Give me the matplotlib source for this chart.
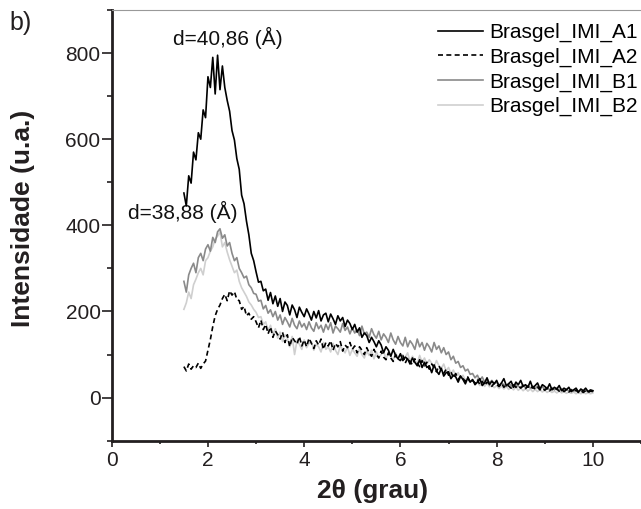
import numpy as np
import matplotlib.pyplot as plt
from matplotlib.ticker import MultipleLocator

plt.rcParams["font.family"] = ["Liberation Sans", "DejaVu Sans"]

# 2theta grid: 1.50 .. 10.00 in 0.05 steps
X_START = 1.5
X_STEP = 0.05

labels = ["Brasgel_IMI_A1", "Brasgel_IMI_A2", "Brasgel_IMI_B1", "Brasgel_IMI_B2"]

a1 = [
    475, 445, 515, 498, 570, 552, 615, 600, 668, 650,
    745, 720, 790, 705, 795, 715, 770, 720, 690, 665,
    620, 598, 555, 530, 470, 450, 410, 378, 335, 318,
    292, 268, 270, 248, 252, 226, 244, 218, 236, 212,
    230, 200, 222, 214, 192, 215, 204, 186, 210, 198,
    188, 206, 194, 180, 200, 185, 202, 178, 192, 196,
    176, 194, 183, 170, 190, 178, 186, 165, 180, 172,
    158, 170, 152, 162, 140, 150, 144, 128, 140, 130,
    118, 132, 122, 104, 118, 110, 96, 112, 98, 90,
    102, 86, 94, 90, 78, 92, 82, 74, 88, 70,
    82, 70, 74, 58, 76, 62, 54, 68, 50, 58,
    60, 44, 52, 48, 36, 50, 42, 32, 46, 36,
    42, 30, 36, 44, 28, 34, 46, 30, 38, 32,
    40, 26, 34, 44, 28, 32, 38, 24, 36, 30,
    40, 26, 30, 24, 38, 22, 28, 34, 20, 30,
    26, 20, 32, 18, 24, 20, 28, 16, 22, 18,
    24, 14, 18, 22, 13, 20, 16, 22, 14, 18,
    16,
]

a2 = [
    72, 62, 78, 66, 74, 70, 80, 68, 78, 85,
    110, 135, 165, 190, 205, 215, 230, 240, 225, 248,
    238, 246, 228, 225, 205, 212, 190, 196, 182, 188,
    176, 162, 180, 158, 170, 148, 164, 140, 155, 146,
    136, 152, 128, 146, 118, 140, 132, 124, 142, 120,
    134, 118, 138, 126, 114, 132, 122, 136, 112, 128,
    120, 132, 110, 126, 118, 130, 108, 122, 116, 128,
    112, 120, 104, 118, 110, 100, 116, 104, 96, 112,
    100, 92, 108, 94, 88, 104, 92, 84, 100, 90,
    86, 98, 80, 92, 84, 76, 90, 80, 72, 86,
    74, 82, 66, 78, 70, 60, 74, 62, 56, 66,
    52, 60, 46, 56, 42, 50, 44, 38, 48, 36,
    40, 34, 42, 30, 38, 28, 36, 32, 26, 34,
    30, 26, 34, 24, 30, 27, 22, 30, 24, 28,
    22, 27, 21, 26, 20, 25, 19, 24, 18, 22,
    17, 22, 16, 21, 16, 20, 15, 19, 14, 18,
    13, 18, 13, 17, 12, 16, 12, 16, 12, 15,
    14,
]

b1 = [
    270, 245, 285, 300, 312, 290, 325, 335, 318, 345,
    355, 340, 372, 360, 385, 392, 370, 378, 352, 360,
    335, 318, 325, 300, 290, 278, 282, 262, 255, 242,
    240, 224, 226, 206, 214, 196, 204, 188, 200, 180,
    192, 170, 186, 176, 164, 184, 168, 160, 178, 164,
    172, 158, 176, 162, 154, 174, 160, 168, 152, 170,
    158, 174, 150, 166, 160, 152, 172, 156, 164, 148,
    162, 150, 158, 144, 166, 148, 152, 140, 160, 146,
    138, 154, 134, 148, 140, 128, 150, 134, 124, 142,
    128, 120, 140, 118, 132, 124, 112, 136, 118, 128,
    110, 126, 118, 106, 128, 112, 120, 104, 116, 100,
    106, 88, 96, 80, 84, 70, 74, 62, 66, 54,
    56, 46, 52, 40, 48, 36, 44, 34, 40, 32,
    36, 28, 34, 30, 26, 33, 28, 24, 31, 26,
    24, 30, 23, 28, 22, 27, 21, 26, 20, 25,
    19, 24, 18, 23, 18, 22, 17, 21, 16, 20,
    15, 19, 15, 18, 14, 17, 14, 17, 13, 16,
    16,
]

b2 = [
    205, 220, 245, 230, 262, 275, 290, 300, 285, 318,
    325, 340, 350, 368, 375, 385, 350, 360, 338, 320,
    305, 290, 296, 270, 255, 245, 235, 222, 215, 205,
    198, 186, 188, 170, 176, 156, 168, 146, 160, 138,
    152, 130, 146, 138, 118, 142, 100, 132, 124, 112,
    134, 116, 126, 130, 110, 124, 118, 106, 128, 112,
    118, 106, 126, 110, 100, 120, 112, 104, 118, 98,
    112, 104, 96, 114, 100, 92, 108, 98, 110, 90,
    106, 94, 100, 108, 90, 102, 96, 86, 104, 92,
    100, 88, 94, 104, 84, 96, 86, 80, 98, 82,
    92, 78, 88, 80, 72, 86, 74, 68, 78, 62,
    70, 56, 64, 50, 58, 44, 52, 40, 46, 36,
    42, 32, 38, 28, 36, 26, 34, 25, 30, 23,
    28, 21, 27, 20, 26, 19, 25, 18, 24, 17,
    22, 16, 21, 15, 20, 14, 19, 14, 18, 13,
    17, 12, 16, 12, 15, 11, 15, 11, 14, 10,
    13, 10, 13, 9, 12, 9, 12, 9, 11, 9,
    11,
]

peak_labels = ["d=40,86 (Å)", "d=38,88 (Å)"]
peak_pos = [(1.27, 835), (0.34, 431)]

series = [a1, a2, b1, b2]
colors = ["#000000", "#000000", "#8a8a8a", "#cfcfcf"]
styles = ["-", (0, (3, 2)), "-", "-"]
zorders = [5, 4, 3, 2]

fig = plt.figure(figsize=(6.41, 5.09), dpi=100)
ax = fig.add_axes([0.1743, 0.1342, 0.8257, 0.8462])

for vals, lab, c, ls, z in zip(series, labels, colors, styles, zorders):
    x = X_START + X_STEP * np.arange(len(vals))
    ax.plot(x, vals, color=c, linestyle=ls, linewidth=1.2, label=lab, zorder=z)

ax.set_xlim(0, 11)
ax.set_ylim(-100, 900)
ax.xaxis.set_major_locator(MultipleLocator(2))
ax.xaxis.set_minor_locator(MultipleLocator(1))
ax.yaxis.set_major_locator(MultipleLocator(200))
ax.yaxis.set_minor_locator(MultipleLocator(100))
ax.set_yticks([0, 200, 400, 600, 800])

ax.spines["right"].set_visible(False)
ax.spines["top"].set_color("#999999")
ax.spines["top"].set_linewidth(0.8)
for s in ("left", "bottom"):
    ax.spines[s].set_linewidth(2.0)
    ax.spines[s].set_color("#231f20")

ax.tick_params(axis="both", which="both", direction="out", colors="#231f20",
               labelsize=15, labelcolor="#231f20")
ax.tick_params(axis="y", which="major", length=7, width=1.2, pad=1)
ax.tick_params(axis="y", which="minor", length=3.6, width=1.2)
ax.tick_params(axis="x", which="major", length=4.5, width=1.2, pad=3)
ax.tick_params(axis="x", which="minor", length=2.5, width=1.2)

ax.set_ylabel("Intensidade (u.a.)", fontsize=19, fontweight="bold", color="#231f20")
ax.set_xlabel("2θ (grau)", fontsize=19, fontweight="bold", color="#231f20")
ax.yaxis.set_label_coords(-0.145, 0.517)
ax.xaxis.set_label_coords(0.492, -0.09)
ax.xaxis.label.set_va("top")

for txt, (px, py) in zip(peak_labels, peak_pos):
    ax.text(px, py, txt, fontsize=15, ha="left", va="center", color="#111111")

fig.text(0.015, 0.955, "b)", fontsize=18, ha="left", va="center", color="#231f20")

leg = ax.legend(loc="upper right", bbox_to_anchor=(1.005, 0.984), frameon=False,
                fontsize=15, handlelength=2.15, handletextpad=0.3,
                labelspacing=0.26, borderpad=0.2, borderaxespad=0.1)

fig.savefig("out.png", dpi=100)
